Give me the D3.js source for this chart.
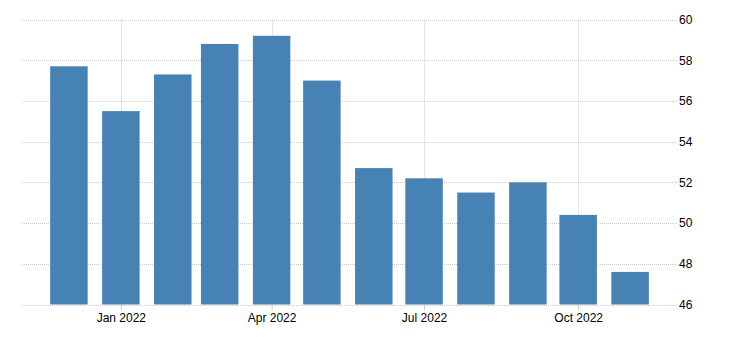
<!DOCTYPE html>
<html>
<head>
<meta charset="utf-8">
<script src="https://cdn.jsdelivr.net/npm/d3@7"></script>
<style>
  body { margin: 0; background: #fff; }
  svg text { font-family: "Liberation Sans", Arial, sans-serif; font-size: 12px; fill: #000; }
</style>
</head>
<body>
<script>
// data
	var months = ['2021-12-01', '2022-01-01', '2022-02-01', '2022-03-01', '2022-04-01', '2022-05-01',
				  '2022-06-01', '2022-07-01', '2022-08-01', '2022-09-01', '2022-10-01', '2022-11-01'],
		values = [57.7, 55.5, 57.3, 58.8, 59.2, 57.0, 52.7, 52.2, 51.5, 52.0, 50.4, 47.6],
		yTicks = [46, 48, 50, 52, 54, 56, 58, 60],
		xTicks = ['2022-01-01', '2022-04-01', '2022-07-01', '2022-10-01'];

// layout (note: "top" is taken by window.top, so plot_* names)
	var width = 730,
		height = 351,
		plot_left = 22,
		plot_right = 677,
		plot_top = 19.5,
		plot_bottom = 304.5,
		bar_width = 37.5,
		bar_color = '#4682b4',
		grid_color = '#cccccc';

	var parse = d3.utcParse('%Y-%m-%d');

	var x = d3.scaleUtc()
		.domain([parse('2021-11-03'), parse('2022-11-29')])
		.range([plot_left, plot_right]);

	var y = d3.scaleLinear()
		.domain([46, 60])
		.range([plot_bottom, plot_top]);

	var svg = d3.select('body').append('svg')
		.attr('width', width)
		.attr('height', height);

// horizontal grid
	svg.append('g').selectAll('line')
		.data(yTicks)
	  .join('line')
		.attr('x1', plot_left)
		.attr('x2', plot_right)
		.attr('y1', function(d) { return Math.round(y(d)) + 0.5; })
		.attr('y2', function(d) { return Math.round(y(d)) + 0.5; })
		.attr('stroke', grid_color)
		.attr('stroke-dasharray', '1,1');

// vertical grid
	svg.append('g').selectAll('line')
		.data(xTicks.map(parse))
	  .join('line')
		.attr('x1', function(d) { return Math.round(x(d)) + 0.5; })
		.attr('x2', function(d) { return Math.round(x(d)) + 0.5; })
		.attr('y1', plot_top)
		.attr('y2', plot_bottom)
		.attr('stroke', grid_color)
		.attr('stroke-dasharray', '1,1');

// bars
	svg.append('g').selectAll('rect')
		.data(values)
	  .join('rect')
		.attr('x', function(d, i) { return x(parse(months[i])) - bar_width / 2; })
		.attr('y', function(d) { return y(d); })
		.attr('width', bar_width)
		.attr('height', function(d) { return plot_bottom - y(d); })
		.attr('fill', bar_color);

// x axis
	var xAxis = svg.append('g')
		.attr('transform', 'translate(0,' + Math.round(plot_bottom) + ')')
		.call(d3.axisBottom(x)
			.tickValues(xTicks.map(parse))
			.tickSize(5)
			.tickPadding(3)
			.tickFormat(d3.utcFormat('%b %Y')));
	xAxis.select('.domain').remove();
	xAxis.selectAll('.tick line').attr('stroke', grid_color);
	xAxis.selectAll('text').attr('font-size', null).attr('font-family', null);

// y axis on the right
	var yAxis = svg.append('g')
		.attr('transform', 'translate(' + plot_right + ',0)')
		.call(d3.axisRight(y)
			.tickValues(yTicks)
			.tickSize(0)
			.tickPadding(2));
	yAxis.select('.domain').remove();
	yAxis.selectAll('text').attr('font-size', null).attr('font-family', null);
</script>
</body>
</html>
